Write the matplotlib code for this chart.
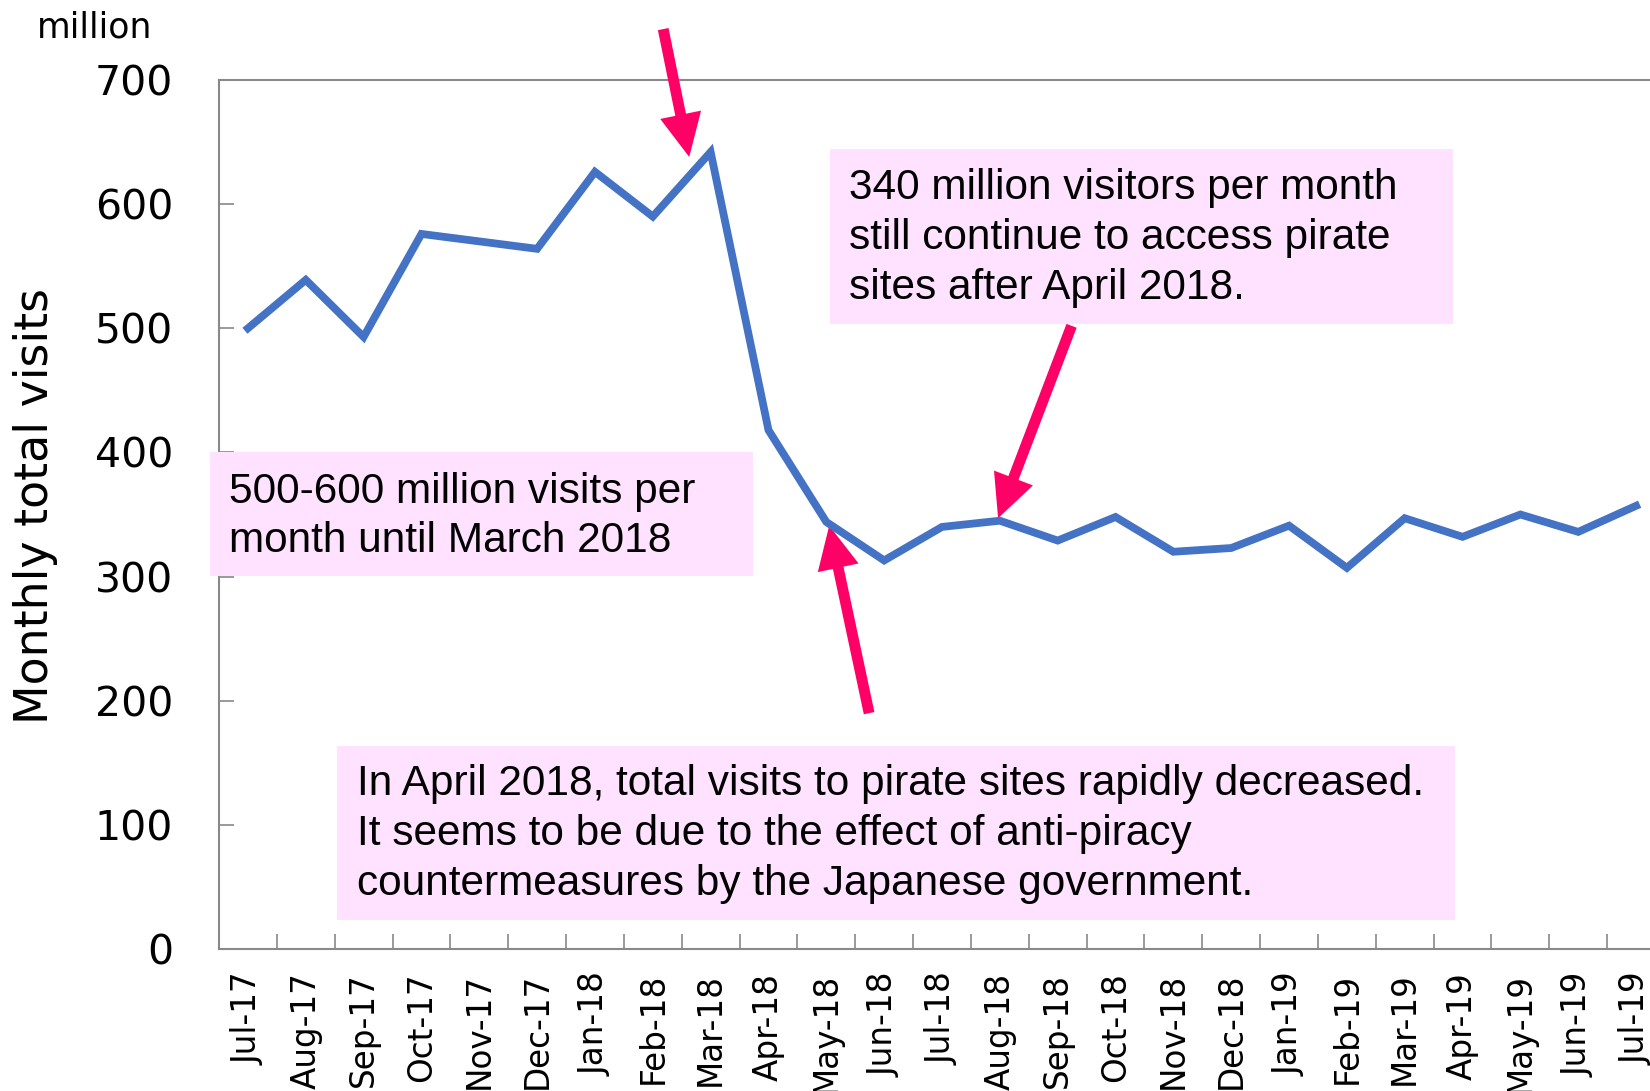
import numpy as np
import matplotlib.pyplot as plt
from matplotlib.patches import Rectangle

months = ['Jul-17', 'Aug-17', 'Sep-17', 'Oct-17', 'Nov-17', 'Dec-17',
          'Jan-18', 'Feb-18', 'Mar-18', 'Apr-18', 'May-18', 'Jun-18',
          'Jul-18', 'Aug-18', 'Sep-18', 'Oct-18', 'Nov-18', 'Dec-18',
          'Jan-19', 'Feb-19', 'Mar-19', 'Apr-19', 'May-19', 'Jun-19', 'Jul-19']
visits = [500, 539, 493, 576, 570, 564, 626, 590, 642, 418, 344, 313,
          340, 345, 329, 348, 320, 323, 341, 307, 347, 332, 350, 336, 357]

yticks = [0, 100, 200, 300, 400, 500, 600, 700]

note_before = '500-600 million visits per\nmonth until March 2018'
note_after = ('340 million visitors per month\nstill continue to access pirate\n'
              'sites after April 2018.')
note_drop = ('In April 2018, total visits to pirate sites rapidly decreased.\n'
             'It seems to be due to the effect of anti-piracy\n'
             'countermeasures by the Japanese government.')

W, H = 1650, 1091
blue = '#4472C4'
pink = '#FF0066'
boxcol = '#FFE2FF'
grey = '#898989'

def fx(x):
    return x / W

def fy(y):
    return 1 - y / H

fig = plt.figure(figsize=(16.5, 10.91), dpi=100)
ax = fig.add_axes([fx(219), fy(949), (1665 - 219) / W, (949 - 80) / H])

x = np.arange(len(months))
ax.plot(x, visits, color=blue, lw=5.6, solid_joinstyle='miter', zorder=5)

ax.set_xlim(-0.5, len(months) - 0.5)
ax.set_ylim(0, 700)
ax.set_yticks(yticks)
ax.set_yticklabels([str(v) for v in yticks], fontsize=29.5, family='DejaVu Sans')
ax.set_xticks(x)
ax.set_xticklabels(months, rotation=90, fontsize=23.5, family='DejaVu Sans',
                   va='top', ha='center')
ax.set_xticks(np.arange(0.5, len(months) - 1, 1.0), minor=True)
ax.tick_params(axis='x', which='major', length=0, pad=17)
ax.tick_params(axis='x', which='minor', direction='in', length=11, width=1.2, color=grey)
ax.tick_params(axis='y', direction='in', length=11, width=1.2, color=grey, pad=33)
for lab in ax.get_yticklabels():
    lab.set_va('center_baseline')
for s in ax.spines.values():
    s.set_color(grey)
    s.set_linewidth(1.5)

fig.text(fx(36), fy(506), 'Monthly total visits', rotation=90, fontsize=33,
         family='DejaVu Sans', ha='center', va='center')
fig.text(fx(37), fy(27), 'million', fontsize=25, family='DejaVu Sans',
         ha='left', va='center')

# pink note boxes
boxes = [
    ((210, 452, 753, 576), (229, 516.5), note_before),
    ((830, 149, 1453, 324), (849, 238), note_after),
    ((337, 746, 1455, 920), (357, 834), note_drop),
]
for (x0, y0, x1, y1), (tx, ty), txt in boxes:
    fig.add_artist(Rectangle((fx(x0), fy(y1)), (x1 - x0) / W, (y1 - y0) / H,
                             transform=fig.transFigure, facecolor=boxcol,
                             edgecolor='none', zorder=1))
    fig.text(fx(tx), fy(ty), txt, fontsize=30.5, family='Liberation Sans',
             ha='left', va='center', linespacing=1.31, zorder=2)

# arrows (tail -> tip in data coordinates)
arrows = [
    ((7.18, 741), (7.63, 638)),
    ((10.74, 190), (10.05, 341)),
    ((14.24, 502), (12.97, 347)),
]
style = 'simple,head_width=3.0,head_length=3.1,tail_width=0.78'
for tail, tip in arrows:
    ax.annotate('', xy=tip, xytext=tail, annotation_clip=False,
                arrowprops=dict(arrowstyle=style, mutation_scale=10,
                                color=pink, lw=0, shrinkA=0, shrinkB=0),
                zorder=4)

fig.savefig('out.png', dpi=100)
